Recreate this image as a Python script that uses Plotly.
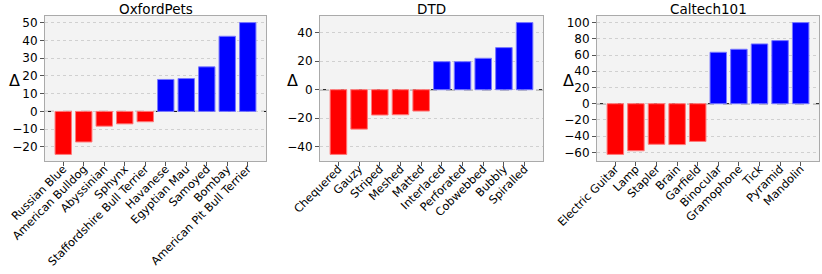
import plotly.graph_objects as go

titles = ["OxfordPets", "DTD", "Caltech101"]

pets_cats = ["Russian Blue", "American Bulldog", "Abyssinian", "Sphynx", "Staffordshire Bull Terrier",
             "Havanese", "Egyptian Mau", "Samoyed", "Bombay", "American Pit Bull Terrier"]
pets_vals = [-24.2, -17.2, -8.3, -7.0, -5.8, 18.0, 18.5, 25.1, 42.3, 50.0]

dtd_cats = ["Chequered", "Gauzy", "Striped", "Meshed", "Matted",
            "Interlaced", "Perforated", "Cobwebbed", "Bubbly", "Spiralled"]
dtd_vals = [-45.5, -27.7, -17.8, -17.6, -15.0, 19.7, 19.7, 22.1, 29.6, 47.2]

cal_cats = ["Electric Guitar", "Lamp", "Stapler", "Brain", "Garfield",
            "Binocular", "Gramophone", "Tick", "Pyramid", "Mandolin"]
cal_vals = [-62.5, -58.0, -50.0, -50.4, -46.5, 63.4, 67.1, 73.7, 77.8, 100.0]

yticks = [list(range(-20, 51, 10)), list(range(-40, 41, 20)), list(range(-60, 101, 20))]

W, H = 822, 274
panels_px = [(45, 266), (320, 543), (597, 819)]
top_px, bot_px = 16, 161
ylab_x = [15, 292, 568]

datasets = [(pets_cats, pets_vals), (dtd_cats, dtd_vals), (cal_cats, cal_vals)]

fig = go.Figure()
font_family = "DejaVu Sans"
annotations = []
shapes = []
for i, ((cats, vals), (l, r)) in enumerate(zip(datasets, panels_px)):
    ax = "" if i == 0 else str(i + 1)
    colors = ["#ff0000" if v < 0 else "#0000ff" for v in vals]
    edges = ["rgba(255,120,120,1)" if v < 0 else "rgba(120,120,255,1)" for v in vals]
    fig.add_trace(go.Bar(
        x=list(range(len(cats))), y=vals, width=0.8,
        marker=dict(color=colors, line=dict(color=edges, width=1)),
        xaxis="x" + ax, yaxis="y" + ax, showlegend=False, hoverinfo="skip",
    ))
    vmin, vmax = min(vals + [0]), max(vals + [0])
    span = vmax - vmin
    yr = [vmin - 0.05 * span, vmax + 0.05 * span]
    xd = [l / W, r / W]
    yd = [1 - bot_px / H, 1 - top_px / H]
    fig.layout["xaxis" + ax] = dict(
        domain=xd, anchor="y" + ax, range=[-0.89, 9.89], automargin=False,
        tickmode="array", tickvals=list(range(len(cats))), ticktext=cats,
        tickangle=-45, ticks="outside", ticklen=4, tickcolor="#555",
        ticklabelstandoff=-8,
        showline=True, linecolor="#aaaaaa", linewidth=1, mirror=True,
        showgrid=False, zeroline=False,
        tickfont=dict(family=font_family, size=11.3, color="black"),
    )
    fig.layout["yaxis" + ax] = dict(
        domain=yd, anchor="x" + ax, range=yr, automargin=False,
        tickmode="array", tickvals=yticks[i],
        ticks="outside", ticklen=4, tickcolor="#555",
        showline=True, linecolor="#aaaaaa", linewidth=1, mirror=True,
        showgrid=True, gridcolor="#d0d0d0", griddash="dot", gridwidth=1,
        zeroline=False,
        tickfont=dict(family=font_family, size=12, color="black"),
    )
    shapes.append(dict(type="line", xref="x" + ax + " domain", yref="y" + ax,
                       x0=0, x1=1, y0=0, y1=0, layer="below",
                       line=dict(color="black", width=1, dash="dash")))
    annotations.append(dict(text=titles[i], xref="paper", yref="paper",
                            x=(xd[0] + xd[1]) / 2, y=1 - 8.5 / H,
                            xanchor="center", yanchor="middle", showarrow=False,
                            borderpad=0,
                            font=dict(family=font_family, size=13.5, color="black")))
    annotations.append(dict(text="Δ", xref="paper", yref="paper",
                            x=ylab_x[i] / W, y=1 - 80 / H,
                            xanchor="center", yanchor="middle", showarrow=False,
                            font=dict(family=font_family, size=16, color="black")))

fig.update_layout(
    width=W, height=H, margin=dict(l=0, r=0, t=0, b=0),
    paper_bgcolor="white", plot_bgcolor="#f3f3f3",
    annotations=annotations, shapes=shapes, bargap=0,
    font=dict(family=font_family), hovermode=False,
)
fig.write_html("out.html", config={"displayModeBar": False, "staticPlot": True},
               post_script="document.body.style.margin='0';document.body.style.overflow='hidden';")
